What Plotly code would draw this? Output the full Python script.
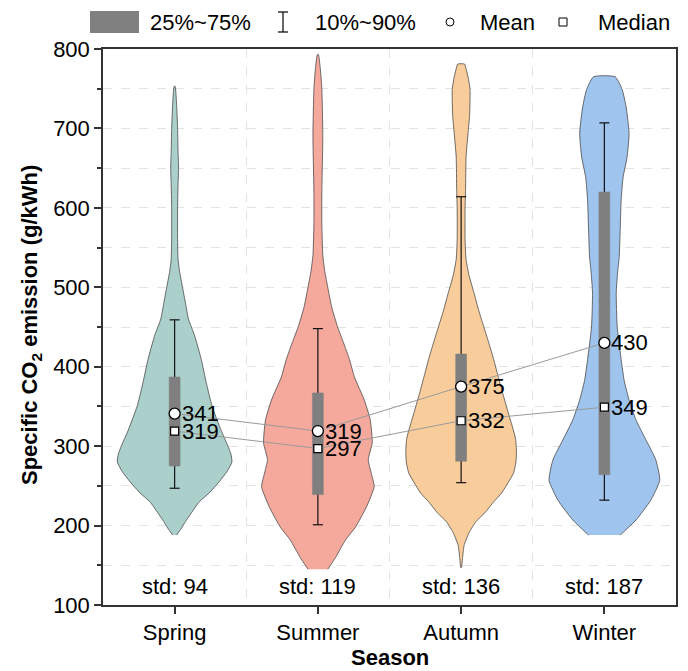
import plotly.graph_objects as go

# ---------------- data ----------------
seasons = ["Spring", "Summer", "Autumn", "Winter"]

# violin outlines: value (g/kWh) and relative density (half-width)
spring_y = [188, 195, 205, 216, 230, 241, 255, 268, 280, 290, 300, 320, 350, 380, 409, 440, 460, 480, 500, 520, 535, 560, 600, 630, 650, 670, 700, 730, 753]
spring_d = [2, 6, 11, 17, 25, 35, 45, 53, 58, 57, 54, 47, 38, 32, 27, 20, 14, 11, 8, 5, 3.5, 3, 3, 3.5, 4, 3.5, 3, 2, 0.5]

summer_y = [145, 160, 182, 198, 223, 249, 266, 283, 304, 333, 358, 387, 409, 430, 450, 475, 500, 520, 540, 580, 620, 690, 750, 775, 793]
summer_d = [10, 18, 28, 38, 49, 57, 54, 51, 55, 53, 47, 37, 32, 26, 20, 14, 10, 7, 5, 4, 4, 5, 4, 2.5, 0.5]

autumn_y = [147, 160, 175, 191, 205, 216, 230, 241, 255, 266, 280, 295, 310, 324, 345, 367, 390, 409, 430, 450, 470, 493, 515, 535, 560, 600, 623, 664, 694, 715, 735, 749, 765, 775, 781]
autumn_d = [0.5, 1.5, 3, 8, 15, 24, 33, 41, 48, 53, 55.5, 56, 55, 52, 47, 42, 37, 33, 28, 23, 18, 13, 8, 5, 4, 4, 4.5, 5, 7, 8.5, 9, 9, 7, 5, 3.5]

winter_y = [188, 207, 232, 257, 283, 308, 333, 358, 383, 409, 450, 493, 520, 538, 572, 610, 639, 664, 694, 727, 749, 765]
winter_d = [16, 32, 47, 56, 52, 42, 32, 25, 20, 17, 13, 12, 13.5, 15, 16, 17, 19, 23, 25, 22, 18, 11]

violin_y = [spring_y, summer_y, autumn_y, winter_y]
violin_d = [spring_d, summer_d, autumn_d, winter_d]

q25 = [275, 239, 281, 264]
q75 = [387, 367, 416, 620]
p10 = [247, 201, 254, 232]
p90 = [459, 448, 614, 707]
means = [341, 319, 375, 430]
medians = [319, 297, 332, 349]
stds = [94, 119, 136, 187]

# ---------------- style ----------------
colors = ["#abcfca", "#f5a99d", "#f9cd9b", "#9fc4ee"]
FONT = "Liberation Sans, Arial, sans-serif"
FS = 22
VHALF = 0.40          # max violin half-width (category units)
BOXHALF = 0.038
CAPHALF = 0.035
W, H = 688, 671
L, R, T, B = 103, 12, 49, 66
PW, PH = W - L - R, H - T - B

def px_x(p):
    return (p - L) / PW

def px_y(p):
    return (H - B - p) / PH

dmax = max(max(d) for d in violin_d)

fig = go.Figure()

# violins
for i, (ys, ds) in enumerate(zip(violin_y, violin_d)):
    hw = [d / dmax * VHALF for d in ds]
    xs = [i + w for w in hw] + [i - w for w in reversed(hw)]
    yy = list(ys) + list(reversed(ys))
    fig.add_trace(go.Scatter(x=xs, y=yy, mode="lines", fill="toself",
                             fillcolor=colors[i],
                             line=dict(color="#4a4a4a", width=0.8, shape="spline", smoothing=0.5),
                             hoverinfo="skip", showlegend=False))

# whiskers (10%~90%)
wx, wy = [], []
for i in range(4):
    wx += [i, i, None, i - CAPHALF, i + CAPHALF, None, i - CAPHALF, i + CAPHALF, None]
    wy += [p10[i], p90[i], None, p10[i], p10[i], None, p90[i], p90[i], None]
fig.add_trace(go.Scatter(x=wx, y=wy, mode="lines", line=dict(color="#111111", width=1.2),
                         hoverinfo="skip", showlegend=False))

# boxes (25%~75%)
for i in range(4):
    fig.add_trace(go.Scatter(x=[i - BOXHALF, i + BOXHALF, i + BOXHALF, i - BOXHALF, i - BOXHALF],
                             y=[q25[i], q25[i], q75[i], q75[i], q25[i]],
                             mode="lines", fill="toself", fillcolor="#7f7f7f",
                             line=dict(color="#7f7f7f", width=0.5),
                             hoverinfo="skip", showlegend=False))

xs_c = list(range(4))
# connecting lines
fig.add_trace(go.Scatter(x=xs_c, y=means, mode="lines", line=dict(color="#9a9a9a", width=1),
                         hoverinfo="skip", showlegend=False))
fig.add_trace(go.Scatter(x=xs_c, y=medians, mode="lines", line=dict(color="#9a9a9a", width=1),
                         hoverinfo="skip", showlegend=False))
# markers
fig.add_trace(go.Scatter(x=xs_c, y=means, mode="markers",
                         marker=dict(symbol="circle", size=11, color="white",
                                     line=dict(color="black", width=1.3)),
                         hoverinfo="skip", showlegend=False))
fig.add_trace(go.Scatter(x=xs_c, y=medians, mode="markers",
                         marker=dict(symbol="square", size=8, color="white",
                                     line=dict(color="black", width=1.2)),
                         hoverinfo="skip", showlegend=False))

ann = []
for i in range(4):
    ann.append(dict(x=i, y=means[i], text=str(means[i]), xanchor="left", yanchor="middle",
                    xshift=5, showarrow=False, font=dict(size=FS, color="black", family=FONT)))
    ann.append(dict(x=i, y=medians[i], text=str(medians[i]), xanchor="left", yanchor="middle",
                    xshift=5, showarrow=False, font=dict(size=FS, color="black", family=FONT)))
    ann.append(dict(x=i, y=123, text=f"std: {stds[i]}", xanchor="center", yanchor="middle",
                    showarrow=False, font=dict(size=FS, color="black", family=FONT)))

# axis titles
ann.append(dict(xref="paper", yref="paper", x=px_x(31), y=px_y(325),
                text="<b>Specific CO<sub>2</sub> emission (g/kWh)</b>", textangle=-90,
                xanchor="center", yanchor="middle", showarrow=False,
                font=dict(size=FS, color="black", family=FONT)))
ann.append(dict(xref="paper", yref="paper", x=px_x(390), y=px_y(657),
                text="<b>Season</b>", xanchor="center", yanchor="middle", showarrow=False,
                font=dict(size=FS, color="black", family=FONT)))

# legend (drawn manually)
leg_font = dict(size=FS, color="black", family=FONT)
for txt, xp in [("25%~75%", 148), ("10%~90%", 313), ("Mean", 478), ("Median", 596)]:
    ann.append(dict(xref="paper", yref="paper", x=px_x(xp), y=px_y(22), text=txt,
                    xanchor="left", yanchor="middle", showarrow=False, font=leg_font))

shapes = [
    dict(type="rect", xref="paper", yref="paper", x0=px_x(90), x1=px_x(139),
         y0=px_y(33), y1=px_y(11), fillcolor="#808080", line=dict(width=0)),
    dict(type="line", xref="paper", yref="paper", x0=px_x(283), x1=px_x(283),
         y0=px_y(32), y1=px_y(12), line=dict(color="black", width=1.2)),
    dict(type="line", xref="paper", yref="paper", x0=px_x(278), x1=px_x(288),
         y0=px_y(12), y1=px_y(12), line=dict(color="black", width=1.2)),
    dict(type="line", xref="paper", yref="paper", x0=px_x(278), x1=px_x(288),
         y0=px_y(32), y1=px_y(32), line=dict(color="black", width=1.2)),
    dict(type="circle", xref="paper", yref="paper", x0=px_x(446), x1=px_x(454),
         y0=px_y(26), y1=px_y(18), line=dict(color="black", width=1), fillcolor="white"),
    dict(type="rect", xref="paper", yref="paper", x0=px_x(559), x1=px_x(567),
         y0=px_y(26), y1=px_y(18), line=dict(color="black", width=1), fillcolor="white"),
]

fig.update_layout(
    width=W, height=H, margin=dict(l=L, r=R, t=T, b=B, autoexpand=False),
    paper_bgcolor="white", plot_bgcolor="white",
    font=dict(family=FONT, size=FS, color="black"),
    annotations=ann, shapes=shapes, showlegend=False,
    xaxis=dict(range=[-0.5, 3.5], tickmode="array", tickvals=xs_c, ticktext=seasons,
               ticks="outside", ticklen=7, tickwidth=1.5, tickcolor="#333",
               showline=True, linecolor="#333", linewidth=1.5, mirror=True,
               showgrid=False, zeroline=False, tickfont=dict(size=FS),
               minor=dict(tickvals=[0.5, 1.5, 2.5], showgrid=True, gridcolor="#e3e3e3",
                          griddash="dash", gridwidth=1, ticks="")),
    yaxis=dict(range=[100, 800], tickmode="linear", tick0=100, dtick=100,
               ticks="outside", ticklen=7, tickwidth=1.5, tickcolor="#333",
               showline=True, linecolor="#333", linewidth=1.5, mirror=True,
               showgrid=True, gridcolor="#e3e3e3", griddash="dash", gridwidth=1,
               zeroline=False, tickfont=dict(size=FS),
               minor=dict(dtick=50, tick0=100, ticks="outside", ticklen=4, tickwidth=1.5,
                          tickcolor="#333", showgrid=True, gridcolor="#e3e3e3",
                          griddash="dash", gridwidth=1)),
)

fig.write_html("out.html")
